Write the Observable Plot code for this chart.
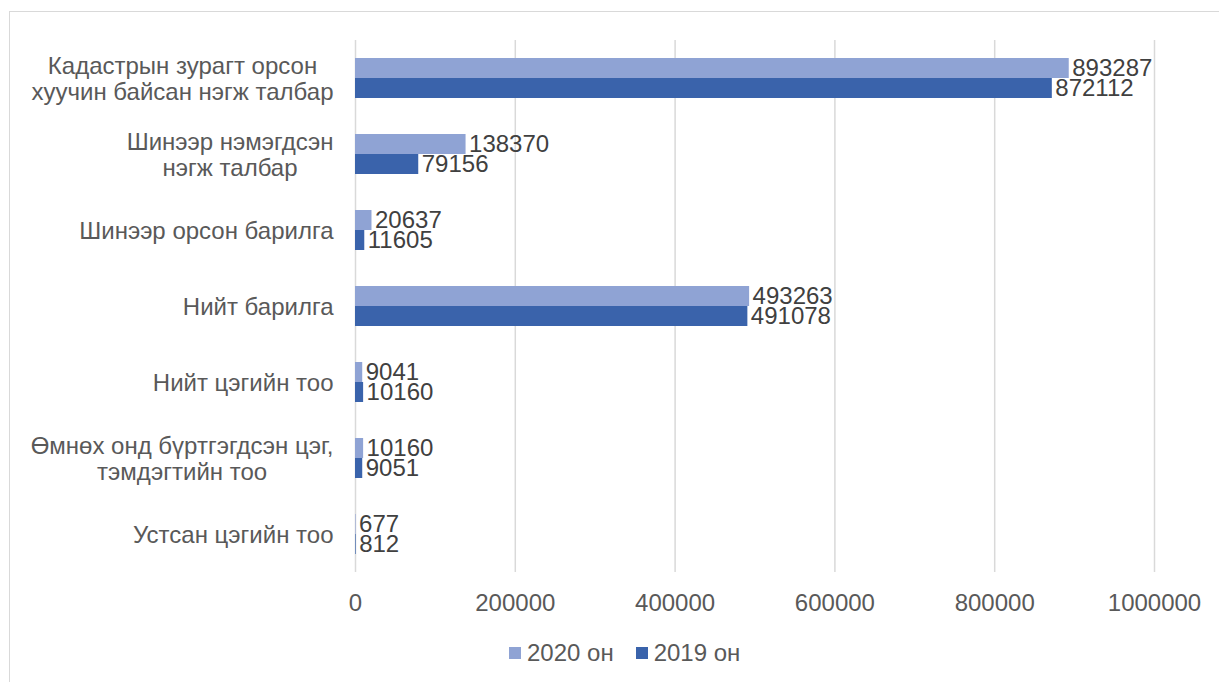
<!DOCTYPE html>
<html><head><meta charset="utf-8">
<script src="https://cdn.jsdelivr.net/npm/d3@7"></script>
<script src="https://cdn.jsdelivr.net/npm/@observablehq/plot@0.6"></script>
<style>
body{margin:0;background:#fff;font-family:"Liberation Sans",Arial,sans-serif;}
#frame{position:absolute;left:9px;top:11px;width:1230px;height:700px;border:1px solid #d9d9d9;box-sizing:border-box;}
#chart{position:absolute;left:0;top:0;}
#legend{position:absolute;top:639px;left:509px;display:flex;align-items:center;font-size:24px;color:#595959;white-space:nowrap;}
#legend .sw{display:inline-block;width:12px;height:12px;margin-right:6px;}
#legend .it{display:flex;align-items:center;margin-right:22px;}
</style></head>
<body>
<div id="frame"></div>
<div id="chart"></div>
<div id="legend"></div>
<script>
const categories = [
  "Кадастрын зурагт орсон\nхуучин байсан нэгж талбар",
  "Шинээр нэмэгдсэн\nнэгж талбар",
  "Шинээр орсон барилга",
  "Нийт барилга",
  "Нийт цэгийн тоо",
  "Өмнөх онд бүртгэгдсэн цэг,\nтэмдэгтийн тоо",
  "Устсан цэгийн тоо"
];
const seriesNames = ["2020 он", "2019 он"];
const values2020 = [893287, 138370, 20637, 493263, 9041, 10160, 677];
const values2019 = [872112, 79156, 11605, 491078, 10160, 9051, 812];
const xTicks = [0, 200000, 400000, 600000, 800000, 1000000];
const colors = ["#8FA3D4", "#3A63AB"];

const rows2020 = categories.map((c, i) => ({cat: c, value: values2020[i], series: seriesNames[0]}));
const rows2019 = categories.map((c, i) => ({cat: c, value: values2019[i], series: seriesNames[1]}));

const FONT = 24;
const ctx = document.createElement("canvas").getContext("2d");
ctx.font = `${FONT}px "Liberation Sans"`;
const labelMarks = categories.map(c => {
  const w = d3.max(c.split("\n"), l => ctx.measureText(l).width);
  return Plot.text([c], {
    y: d => d, text: d => d, frameAnchor: "left", textAnchor: "middle",
    lineAnchor: "middle", lineHeight: 1.1, dx: -(22 + w / 2),
    fill: "#595959", fontSize: FONT
  });
});

const chart = Plot.plot({
  width: 1219, height: 625,
  marginLeft: 355, marginRight: 65, marginTop: 40, marginBottom: 53,
  style: {fontFamily: '"Liberation Sans", Arial, sans-serif', background: "transparent"},
  x: {domain: [0, 1000000], ticks: xTicks, label: null},
  y: {domain: categories, paddingInner: 0.474, paddingOuter: 0.237, axis: null, label: null},
  marks: [
    Plot.gridX(xTicks, {stroke: "#d9d9d9", strokeOpacity: 1, strokeWidth: 1.5}),
    Plot.axisX(xTicks, {tickSize: 0, tickPadding: 21, fontSize: FONT, fill: "#595959", tickFormat: d => String(d), label: null}),
    Plot.barX(rows2020, {y: "cat", x: "value", fill: colors[0], insetBottom: 20}),
    Plot.barX(rows2019, {y: "cat", x: "value", fill: colors[1], insetTop: 20}),
    Plot.text(rows2020, {y: "cat", x: "value", text: d => String(d.value), textAnchor: "start", dx: 3, dy: -10, fill: "#404040", fontSize: FONT}),
    Plot.text(rows2019, {y: "cat", x: "value", text: d => String(d.value), textAnchor: "start", dx: 3, dy: 10, fill: "#404040", fontSize: FONT}),
    ...labelMarks
  ]
});
document.getElementById("chart").appendChild(chart);

const legend = document.getElementById("legend");
seriesNames.forEach((s, i) => {
  const it = document.createElement("span");
  it.className = "it";
  it.innerHTML = `<span class="sw" style="background:${colors[i]}"></span>${s}`;
  legend.appendChild(it);
});
</script>
</body></html>
